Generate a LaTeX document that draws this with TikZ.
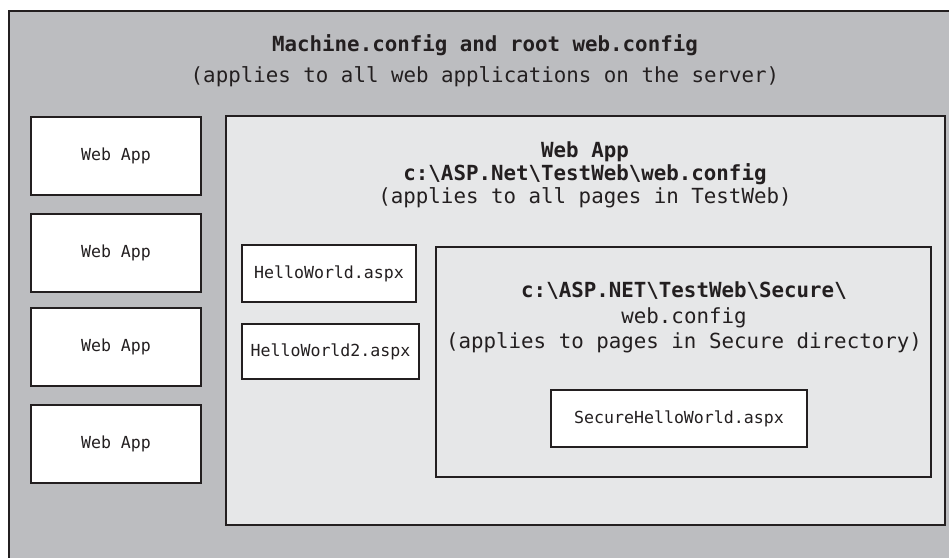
\documentclass[tikz,border=0pt]{standalone}
\usepackage{fontspec}
\newfontfamily\dmono{DejaVu Sans Mono}
\definecolor{outergray}{HTML}{BCBDC0}
\definecolor{innergray}{HTML}{E6E7E8}
\definecolor{edge}{HTML}{231F20}
\tikzset{
  frame/.style={draw=edge, line width=2pt, inner sep=0pt, outer sep=0pt},
  whitebox/.style={frame, fill=white, text=edge, font=\dmono\fontsize{16.6}{20}\selectfont},
  bigtxt/.style={font=\dmono\fontsize{20.8}{23}\selectfont, align=center, inner sep=0pt, text=edge},
}
\begin{document}
\begin{tikzpicture}[x=1pt, y=-1pt]
\useasboundingbox (0,0) rectangle (949,557);
\begin{scope}
\clip (0,0) rectangle (949,557);
\node[frame, fill=outergray, minimum width=955pt, minimum height=562pt] (machine) at (486.5,291.5) {};
\end{scope}
\node[bigtxt, font=\dmono\fontsize{20.8}{31}\selectfont] (mtitle) at (485,61) {\textbf{Machine.config and root web.config}\\(applies to all web applications on the server)};

\node[whitebox, minimum width=170pt, minimum height=78pt] (wa1) at (116,156) {Web App};
\node[whitebox, minimum width=170pt, minimum height=78pt] (wa2) at (116,252.5) {Web App};
\node[whitebox, minimum width=170pt, minimum height=78pt] (wa3) at (116,346.5) {Web App};
\node[whitebox, minimum width=170pt, minimum height=78pt] (wa4) at (116,444) {Web App};

\node[frame, fill=innergray, minimum width=719pt, minimum height=409pt] (testweb) at (585.5,320.5) {};
\node[bigtxt] (twtitle) at (585,175) {\textbf{Web App}\\\textbf{c:\textbackslash ASP.Net\textbackslash TestWeb\textbackslash web.config}\\(applies to all pages in TestWeb)};

\node[whitebox, minimum width=174pt, minimum height=57pt] (hw1) at (329,273.5) {HelloWorld.aspx};
\node[whitebox, minimum width=177pt, minimum height=55pt] (hw2) at (330.5,351.5) {HelloWorld2.aspx};

\node[frame, fill=innergray, minimum width=495pt, minimum height=230pt] (secure) at (683.5,362) {};
\node[bigtxt, font=\dmono\fontsize{20.8}{25.5}\selectfont] (sectitle) at (684,317.5) {\textbf{c:\textbackslash ASP.NET\textbackslash TestWeb\textbackslash Secure\textbackslash}\\web.config\\(applies to pages in Secure directory)};

\node[whitebox, minimum width=256pt, minimum height=57pt] (shw) at (679,418.5) {SecureHelloWorld.aspx};
\end{tikzpicture}
\end{document}
